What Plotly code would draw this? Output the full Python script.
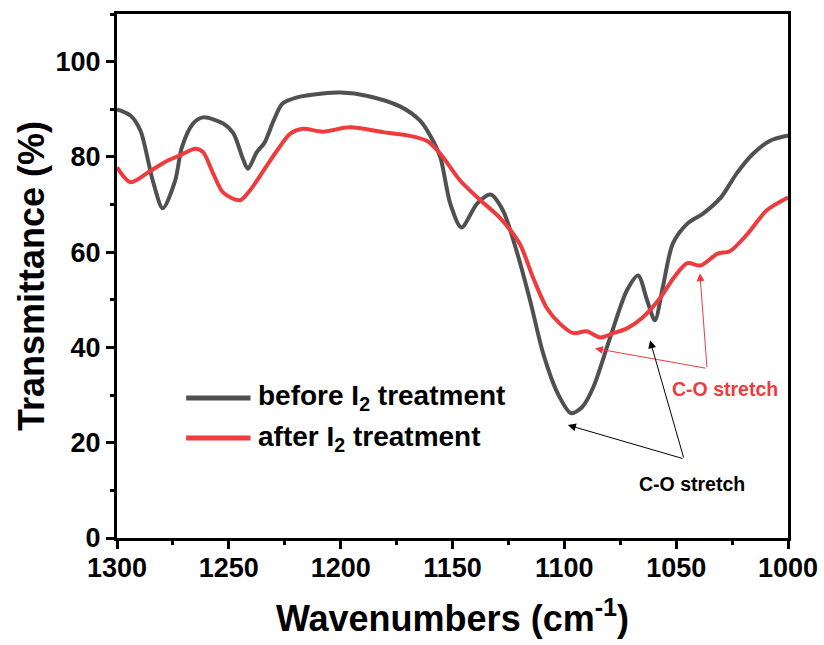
import plotly.graph_objects as go

# FTIR spectra, 1300-1000 cm-1
before_wn = [1300, 1294, 1289.5, 1284, 1279.5, 1274, 1271, 1266, 1261.5, 1252.5,
             1248, 1244, 1241.5, 1237.5, 1234, 1230, 1226, 1219.5, 1208, 1200,
             1188, 1173.5, 1164.5, 1160, 1155.5, 1151, 1146, 1139, 1133, 1127.5,
             1121, 1115, 1109.5, 1103, 1097, 1092, 1087, 1079.5, 1072, 1067,
             1063, 1059.5, 1056, 1051.5, 1045, 1038, 1030, 1023, 1015.5, 1008, 1000]
before_t = [90.0, 88.7, 85.5, 75.0, 69.2, 75.0, 82.0, 87.0, 88.3, 87.0,
            85.0, 80.0, 77.5, 81.0, 83.0, 87.6, 91.2, 92.5, 93.3, 93.5,
            92.8, 90.6, 87.6, 84.5, 80.0, 70.2, 65.2, 70.2, 72.1, 68.8,
            59.7, 49.3, 38.8, 30.4, 26.2, 27.5, 31.7, 42.1, 52.0, 55.1,
            49.9, 45.7, 52.6, 61.8, 66.0, 68.1, 71.5, 76.5, 80.7, 83.4, 84.5]

after_wn = [1300, 1294, 1285, 1277.5, 1272, 1265, 1261.5, 1257, 1252.5, 1245,
            1240.5, 1234.5, 1228.5, 1222.5, 1217, 1208, 1196, 1181, 1170, 1161.5,
            1155.5, 1146.5, 1137.5, 1129, 1120, 1114, 1108, 1102, 1096, 1090,
            1084, 1078, 1072, 1065, 1057, 1051, 1045, 1039, 1031.5, 1026,
            1018, 1009.5, 1000]
after_t = [77.8, 74.7, 77.1, 79.2, 80.3, 81.7, 81.0, 76.5, 72.5, 70.9,
           73.0, 77.1, 81.3, 84.9, 85.9, 85.3, 86.2, 85.2, 84.5, 83.4,
           80.7, 75.0, 70.9, 67.3, 61.8, 54.7, 48.4, 45.0, 43.0, 43.4,
           42.1, 43.0, 44.0, 46.3, 50.5, 54.7, 57.7, 57.2, 59.7, 60.2,
           63.9, 68.8, 71.5]

series_names = ["before I<sub>2</sub> treatment", "after I<sub>2</sub> treatment"]
GRAY = "#505050"
RED = "#EF3B3E"
FONT = "Liberation Sans, Arial, sans-serif"

fig = go.Figure()
fig.add_trace(go.Scatter(x=before_wn, y=before_t, mode="lines", name=series_names[0],
                         line=dict(color=GRAY, width=4, shape="spline", smoothing=0.8)))
fig.add_trace(go.Scatter(x=after_wn, y=after_t, mode="lines", name=series_names[1],
                         line=dict(color=RED, width=4, shape="spline", smoothing=0.8)))

# hand-drawn legend: long line samples with bold labels
legend_rows = [(0.2672, GRAY, series_names[0]), (0.1908, RED, series_names[1])]
for yp, col, label in legend_rows:
    fig.add_shape(type="line", xref="paper", yref="paper", x0=0.103, x1=0.199,
                  y0=yp, y1=yp, line=dict(color=col, width=5))
    fig.add_annotation(xref="paper", yref="paper", x=0.207, y=yp, text=label,
                       showarrow=False, xanchor="left", yanchor="middle",
                       font=dict(family=FONT, size=28, color="black", weight="bold"))

# band assignments with arrows
def arrow(tail, head, color):
    fig.add_annotation(x=head[0], y=head[1], ax=tail[0], ay=tail[1],
                       xref="x", yref="y", axref="x", ayref="y", text="",
                       showarrow=True, arrowhead=2, arrowsize=1.6, arrowwidth=1,
                       arrowcolor=color, standoff=0, startstandoff=0)

red_tail = (1036.2, 35.6)
arrow(red_tail, (1086.3, 39.8), RED)
arrow(red_tail, (1039.4, 55.6), RED)
fig.add_annotation(x=1028.2, y=31.2, xref="x", yref="y", text="C-O stretch",
                   showarrow=False, font=dict(family=FONT, size=19.5, color=RED, weight="bold"))

black_tail = (1046.5, 16.6)
arrow(black_tail, (1098.4, 23.7), "black")
arrow(black_tail, (1061.7, 41.5), "black")
fig.add_annotation(x=1042.9, y=11.3, xref="x", yref="y", text="C-O stretch",
                   showarrow=False, font=dict(family=FONT, size=19.5, color="black", weight="bold"))

axis_common = dict(
    showline=True, linecolor="black", linewidth=3, mirror=True,
    ticks="outside", ticklen=8, tickwidth=3, tickcolor="black",
    showgrid=False, zeroline=False, automargin=False,
    tickfont=dict(family=FONT, size=27, color="black", weight="bold"),
)

fig.update_xaxes(range=[1300, 1000], tickvals=[1300, 1250, 1200, 1150, 1100, 1050, 1000],
                 ticklabelstandoff=-4,
                 minor=dict(dtick=25, ticklen=4, tickwidth=3, tickcolor="black", ticks="outside"),
                 title=dict(text="Wavenumbers (cm<sup>-1</sup>)", standoff=24,
                            font=dict(family=FONT, size=36, color="black", weight="bold")),
                 **axis_common)
fig.update_yaxes(range=[0, 110], tickvals=[0, 20, 40, 60, 80, 100],
                 minor=dict(dtick=10, ticklen=4, tickwidth=3, tickcolor="black", ticks="outside"),
                 title=dict(text="Transmittance (%)", standoff=0,
                            font=dict(family=FONT, size=36, color="black", weight="bold")),
                 **axis_common)

fig.update_layout(
    width=824, height=645,
    margin=dict(l=117, r=36, t=14, b=107),
    paper_bgcolor="white", plot_bgcolor="white",
    showlegend=False,
)

fig.write_html("out.html")
